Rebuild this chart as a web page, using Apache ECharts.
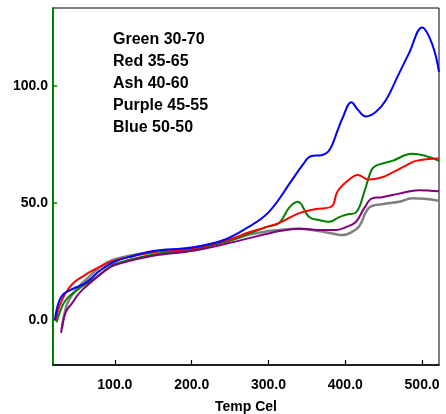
<!DOCTYPE html>
<html>
<head>
<meta charset="utf-8">
<script src="https://cdn.jsdelivr.net/npm/echarts@6/dist/echarts.min.js"></script>
<style>html,body{margin:0;padding:0;background:#fff}#c{width:446px;height:414px}</style>
</head>
<body>
<div id="c"></div>
<script>
var xTicks = [100, 200, 300, 400, 500];
var yTicks = [0, 50, 100];

var blueT = [22, 24, 28, 33, 40, 50, 60, 70, 80, 100, 125, 150, 200, 240, 270, 300, 331, 345, 355, 370, 380, 390, 396, 408, 416, 427, 440, 453, 468, 483, 500, 513, 522];
var blueV = [0, 4, 8.5, 11, 12.5, 14, 15.5, 18, 21, 25, 27.5, 29.5, 31, 34, 39, 46, 60, 66.5, 70, 70.5, 73, 81, 86, 93, 90, 87, 89, 94, 104, 114, 125, 118, 106];

var redT = [23, 28, 35, 45, 60, 70, 85, 100, 150, 200, 250, 275, 300, 314, 340, 362, 382, 390, 405, 416, 431, 448, 461, 479, 492, 522];
var redV = [0, 6, 11, 15.5, 19, 21, 23.5, 25.5, 29, 30.5, 34.5, 37.5, 40, 41.5, 45.7, 47.4, 48.5, 55, 60, 62, 60, 61, 63, 66, 68, 69];

var greenT = [24, 28, 33, 40, 50, 60, 75, 90, 100, 150, 200, 250, 275, 300, 314, 327, 338, 353, 366, 379, 392, 401, 414, 425, 434, 440, 461, 487, 522];
var greenV = [-1, 3, 7, 10, 12.5, 15, 18, 22, 24, 28, 30, 34, 37, 40, 41.5, 48, 50.5, 44, 42.7, 42, 44, 45, 46, 55, 64, 66, 68, 71, 68];

var ashT = [31, 34, 38, 45, 55, 65, 80, 100, 150, 200, 250, 275, 300, 314, 340, 365, 383, 396, 408, 418, 431, 448, 470, 487, 522];
var ashV = [-4, 2, 7, 11, 15, 18, 22.5, 26, 29, 30.5, 34, 36.5, 38, 38.5, 39, 38, 37, 36.3, 37.5, 40, 48, 49.5, 50.5, 52, 51];

var purpleT = [30, 33, 37, 44, 50, 58, 70, 85, 100, 150, 200, 250, 275, 300, 314, 340, 365, 388, 403, 414, 425, 435, 448, 470, 496, 522];
var purpleV = [-5.5, 0, 4, 7, 10, 13, 16.5, 20.5, 23.5, 27.5, 29.5, 33, 35, 37, 38, 39, 38.5, 38.5, 40, 42, 48, 52, 52.5, 54, 55.5, 55];

function pairs(t, v) { return t.map(function (x, i) { return [x, v[i]]; }); }

var chart = echarts.init(document.getElementById('c'), null, { renderer: 'canvas' });
var font = 'Liberation Sans, Arial, sans-serif';
function mk(name, color, t, v, w) {
  return { name: name, type: 'line', smooth: 0.4, showSymbol: false, symbol: 'none',
    lineStyle: { color: color, width: w }, itemStyle: { color: color },
    data: pairs(t, v), z: 2 };
}
chart.setOption({
  animation: false,
  backgroundColor: '#fff',
  grid: { left: 53, right: 7, top: 8, bottom: 49, show: true, borderColor: '#000', borderWidth: 1,
    containLabel: false, outerBoundsMode: 'none' },
  legend: {
    orient: 'vertical', left: 103, top: 27, icon: 'none', itemWidth: 0, itemGap: 6,
    selectedMode: false,
    textStyle: { fontFamily: font, fontWeight: 'bold', fontSize: 16, color: '#000' },
    data: ['Green 30-70', 'Red 35-65', 'Ash 40-60', 'Purple 45-55', 'Blue 50-50']
  },
  xAxis: {
    type: 'value', min: 19.5, max: 522,
    name: 'Temp Cel', nameLocation: 'middle', nameGap: 35,
    nameTextStyle: { fontFamily: font, fontWeight: 'bold', fontSize: 14, color: '#000' },
    axisLine: { show: true, onZero: false, lineStyle: { color: '#000', width: 1.5 } },
    axisTick: { show: true, inside: true, length: 5, customValues: xTicks, lineStyle: { color: '#000', width: 1.2 } },
    axisLabel: { customValues: xTicks, margin: 13, fontFamily: font, fontWeight: 'bold', fontSize: 14, color: '#000',
      formatter: function (v) { return v.toFixed(1); } },
    splitLine: { show: false }
  },
  yAxis: {
    type: 'value', min: -19.2, max: 133.3,
    axisLine: { show: true, onZero: false, lineStyle: { color: '#008000', width: 2 } },
    axisTick: { show: true, inside: true, length: 4, customValues: yTicks, lineStyle: { color: '#008000', width: 1.5 } },
    axisLabel: { customValues: yTicks, margin: 5, fontFamily: font, fontWeight: 'bold', fontSize: 14, color: '#000',
      formatter: function (v) { return v.toFixed(1); } },
    splitLine: { show: false }
  },
  series: [
    mk('Ash 40-60', '#808080', ashT, ashV, 2.5),
    mk('Green 30-70', '#008000', greenT, greenV, 2),
    mk('Red 35-65', '#ff0000', redT, redV, 2),
    mk('Purple 45-55', '#800080', purpleT, purpleV, 2),
    mk('Blue 50-50', '#0000ff', blueT, blueV, 2)
  ]
});
</script>
</body>
</html>
